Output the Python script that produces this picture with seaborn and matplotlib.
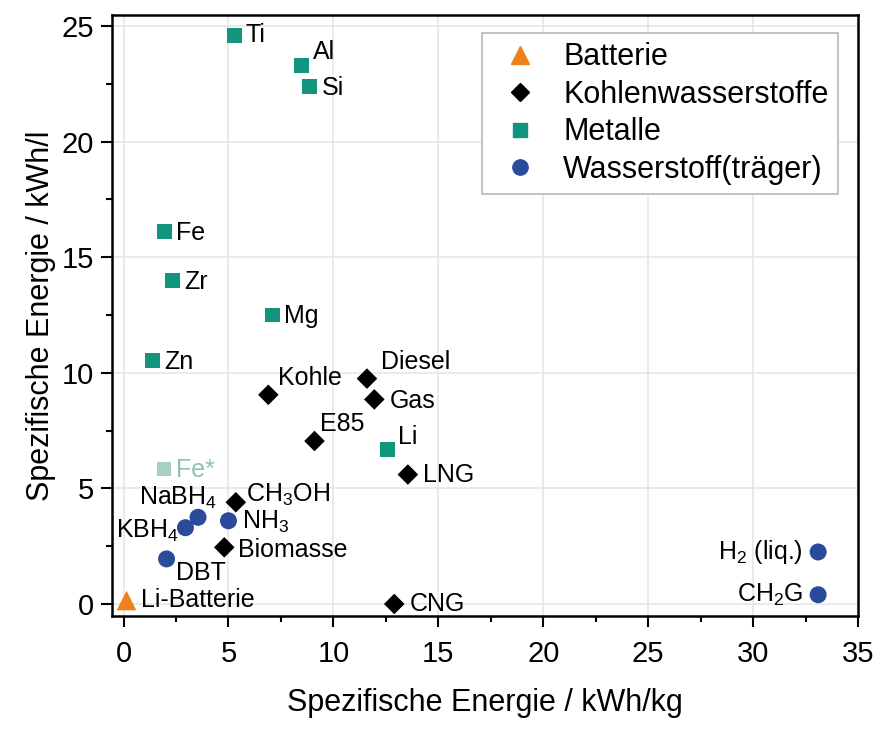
import seaborn as sns
import matplotlib.pyplot as plt
import pandas as pd
from matplotlib.ticker import MultipleLocator

# data
names = ["Li-Batterie",
         "Kohle", "Diesel", "Gas", "E85", "LNG", "CH$_\\mathregular{3}$OH", "Biomasse", "CNG",
         "Ti", "Al", "Si", "Fe", "Zr", "Mg", "Zn", "Li",
         "NaBH$_\\mathregular{4}$", "KBH$_\\mathregular{4}$", "NH$_\\mathregular{3}$", "DBT",
         "H$_\\mathregular{2}$ (liq.)", "CH$_\\mathregular{2}$G"]
kwh_kg = [0.1,
          6.9, 11.6, 11.95, 9.1, 13.55, 5.35, 4.8, 12.9,
          5.3, 8.5, 8.85, 1.95, 2.35, 7.1, 1.4, 12.6,
          3.55, 2.95, 5.0, 2.05,
          33.1, 33.1]
kwh_l = [0.17,
         9.05, 9.75, 8.85, 7.05, 5.6, 4.4, 2.45, 0.0,
         24.6, 23.3, 22.4, 16.1, 14.0, 12.5, 10.55, 6.7,
         3.75, 3.3, 3.6, 1.95,
         2.25, 0.4]
kategorie = (["Batterie"] + ["Kohlenwasserstoffe"] * 8 + ["Metalle"] * 8
             + ["Wasserstoff(träger)"] * 6)

# Fe* extra point
fe_star_x = [1.95]
fe_star_y = [5.85]

# label offsets (points) and alignment per point
offsets = [(11, 0, "left"),
           (7, 12, "left"), (10, 12, "left"), (11, -1, "left"), (4, 12, "left"),
           (11, 0, "left"), (7, 5, "left"), (10, -2, "left"), (11, 0, "left"),
           (8, 0, "left"), (8, 10, "left"), (9, -1, "left"), (8, -1, "left"),
           (8, -1, "left"), (8, -1, "left"), (8, -1, "left"), (7, 9, "left"),
           (14, 14, "right"), (-5, -2, "right"), (10, -1, "left"), (7, -10, "left"),
           (-11, 0, "right"), (-11, 0, "right")]

df = pd.DataFrame({"x": kwh_kg, "y": kwh_l, "kat": kategorie, "name": names})

order = ["Batterie", "Kohlenwasserstoffe", "Metalle", "Wasserstoff(träger)"]
farben = {"Batterie": "#f0801b", "Kohlenwasserstoffe": "#000000",
          "Metalle": "#13947f", "Wasserstoff(träger)": "#2a4b9b"}
marker = {"Batterie": "^", "Kohlenwasserstoffe": "D",
          "Metalle": "s", "Wasserstoff(träger)": "o"}
groesse = {"Batterie": 200, "Kohlenwasserstoffe": 110,
           "Metalle": 115, "Wasserstoff(träger)": 150}

sns.set_theme(style="whitegrid")
plt.rcParams["font.family"] = ["Liberation Sans", "DejaVu Sans"]
plt.rcParams["mathtext.fontset"] = "custom"
plt.rcParams["mathtext.rm"] = "Liberation Sans"
plt.rcParams["mathtext.it"] = "Liberation Sans:italic"
for key in ["text.color", "axes.labelcolor", "xtick.color", "ytick.color"]:
    plt.rcParams[key] = "black"

fig = plt.figure(figsize=(8.92, 7.42), dpi=100)
ax = fig.add_axes([112 / 892, 1 - 616 / 742, (858 - 112) / 892, (616 - 15) / 742])

for k in order:
    sub = df[df.kat == k]
    sns.scatterplot(data=sub, x="x", y="y", hue="kat", palette=farben,
                    marker=marker[k], s=groesse[k], linewidth=0, ax=ax,
                    legend=False, zorder=3)

sns.scatterplot(x=fe_star_x, y=fe_star_y, color="#a8cfc4", marker="s",
                s=115, linewidth=0, ax=ax, legend=False, zorder=3)
ax.annotate("Fe*", (fe_star_x[0], fe_star_y[0]), xytext=(8, -1),
            textcoords="offset points", ha="left", va="center",
            fontsize=18, color="#8fc2b5")

for i, n in enumerate(names):
    dx, dy, ha = offsets[i]
    ax.annotate(n, (kwh_kg[i], kwh_l[i]), xytext=(dx, dy),
                textcoords="offset points", ha=ha, va="center", fontsize=18)

# legend
handles = [plt.Line2D([], [], ls="", marker=marker[k], color=farben[k],
                      markersize=groesse[k] ** 0.5 * 0.9) for k in order]
leg = ax.legend(handles, order, loc="upper right", bbox_to_anchor=(0.973, 0.97),
                fontsize=22, frameon=True, fancybox=False, framealpha=1,
                edgecolor="#b8b8b8", handletextpad=0.46, borderpad=0.3,
                labelspacing=0.25, handlelength=1.9, borderaxespad=0)
leg.get_frame().set_linewidth(1.2)

ax.set_xlim(-0.55, 35)
ax.set_ylim(-0.52, 25.48)
ax.xaxis.set_major_locator(MultipleLocator(5))
ax.xaxis.set_minor_locator(MultipleLocator(2.5))
ax.yaxis.set_major_locator(MultipleLocator(5))
ax.yaxis.set_minor_locator(MultipleLocator(2.5))
ax.grid(True, which="major", color="#e6e6e6", linewidth=1.2)
ax.grid(False, which="minor")
ax.tick_params(which="major", direction="out", length=8, width=1.5,
               labelsize=21, color="black", bottom=True, left=True, pad=5)
ax.tick_params(axis="x", which="major", pad=9)
ax.tick_params(which="minor", direction="out", length=4, width=1.5,
               color="black", bottom=True, left=True)
for sp in ax.spines.values():
    sp.set_color("black")
    sp.set_linewidth(1.8)

ax.set_xlabel("Spezifische Energie / kWh/kg", fontsize=22, labelpad=15)
ax.set_ylabel("Spezifische Energie / kWh/l", fontsize=22, labelpad=4)

plt.savefig("out.png", dpi=100)
